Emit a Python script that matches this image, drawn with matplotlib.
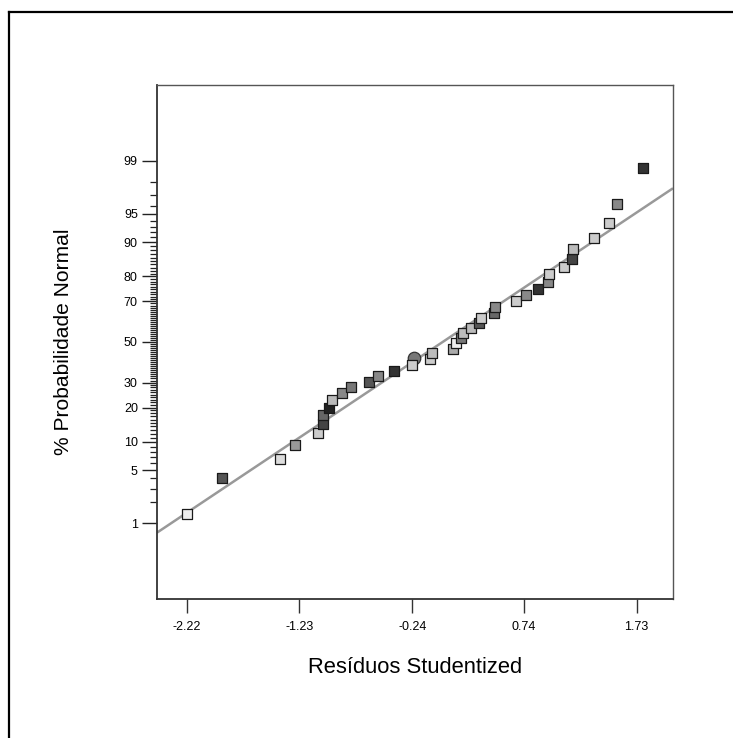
import numpy as np
import matplotlib
matplotlib.use("Agg")
import matplotlib.pyplot as plt
from matplotlib.lines import Line2D
from statistics import NormalDist

# ---- data ----
residuals = [-2.22, -1.907, -1.404, -1.272, -1.065, -1.021, -1.021, -0.971, -0.942, -0.857,
             -0.778, -0.617, -0.541, -0.400, -0.245, -0.223, -0.084, -0.064, 0.120, 0.141,
             0.188, 0.208, 0.276, 0.346, 0.361, 0.480, 0.484, 0.668, 0.756, 0.861,
             0.952, 0.960, 1.092, 1.162, 1.174, 1.355, 1.490, 1.560, 1.783]
prob_pct = [1.36, 4.02, 6.72, 9.32, 12.08, 14.64, 17.36, 19.97, 22.72, 25.53,
            28.06, 30.53, 33.28, 35.64, 38.64, 41.62, 41.2, 44.24, 46.27, 49.33,
            51.89, 54.75, 56.97, 59.78, 62.23, 64.64, 67.47, 70.19, 72.67, 75.18,
            77.93, 80.74, 83.2, 85.74, 88.36, 90.96, 93.61, 96.14, 98.71]
fill_gray = ["#eeeeee", "#555555", "#dddddd", "#999999", "#cccccc", "#444444", "#666666",
             "#222222", "#bbbbbb", "#888888", "#777777", "#555555", "#888888", "#333333",
             "#cccccc", "#777777", "#cccccc", "#bbbbbb", "#aaaaaa", "#eeeeee", "#777777",
             "#bbbbbb", "#bbbbbb", "#555555", "#cccccc", "#666666", "#888888", "#cccccc",
             "#888888", "#333333", "#888888", "#cccccc", "#cccccc", "#444444", "#bbbbbb",
             "#cccccc", "#cccccc", "#888888", "#333333"]
marker_shape = ["s"] * 15 + ["o"] + ["s"] * 23

fit_slope = 0.9753       # normal-score units per residual unit
fit_intercept = -0.026

x_ticks = [-2.22, -1.23, -0.24, 0.74, 1.73]
x_tick_labels = ["-2.22", "-1.23", "-0.24", "0.74", "1.73"]
y_major = [1, 5, 10, 20, 30, 50, 70, 80, 90, 95, 99]
y_minor = [v for v in range(2, 99) if v not in y_major]

x_limits = (-2.481, 2.049)
z_limit = 3.297

xlabel = "Resíduos Studentized"
ylabel = "% Probabilidade Normal"

# ---- normal probability scale ----
_nd = NormalDist()
def _fwd(p):
    p = np.clip(np.asarray(p, dtype=float), 1e-7, 100 - 1e-7)
    return np.vectorize(lambda v: _nd.inv_cdf(v / 100.0))(p)
def _inv(z):
    z = np.asarray(z, dtype=float)
    return np.vectorize(lambda v: _nd.cdf(v) * 100.0)(z)

plt.rcParams['font.family'] = ['Liberation Sans', 'DejaVu Sans']

fig = plt.figure(figsize=(7.33, 7.38), dpi=100)
ax = fig.add_axes([157 / 733, 1 - 599 / 738, 516 / 733, 514 / 738])
ax.set_yscale('function', functions=(_fwd, _inv))

# fitted line
xl = np.array(x_limits)
line_p = _inv(fit_intercept + fit_slope * xl)
ax.plot(xl, line_p, color="#999999", lw=1.8, zorder=2, solid_capstyle='butt')

# points
for i, (x, p, c, m) in enumerate(zip(residuals, prob_pct, fill_gray, marker_shape)):
    if m == "o":
        ax.scatter([x], [p], s=9.0 ** 2, marker="o", facecolor=c, edgecolor="#333333",
                   linewidth=0.9, zorder=3)
    else:
        ax.scatter([x], [p], s=7.8 ** 2, marker="s", facecolor=c, edgecolor="#1a1a1a",
                   linewidth=0.9, zorder=4 + i * 0.01)

ax.set_xlim(*x_limits)
ax.set_ylim(_inv(-z_limit), _inv(z_limit))

ax.set_xticks(x_ticks)
ax.set_xticklabels(x_tick_labels)
ax.set_yticks(y_major)
ax.set_yticklabels([str(v) for v in y_major])
ax.set_yticks(y_minor, minor=True)
ax.xaxis.set_minor_locator(matplotlib.ticker.NullLocator())

ax.tick_params(axis='y', which='major', length=10.8, width=1.0, color="#222222",
               labelsize=9, pad=3)
ax.tick_params(axis='y', which='minor', length=5.0, width=0.9, color="#222222")
ax.tick_params(axis='x', which='major', length=10.0, width=1.0, color="#333333",
               labelsize=9, pad=6)

for side in ['left', 'bottom']:
    ax.spines[side].set_linewidth(1.3)
    ax.spines[side].set_color("#333333")
for side in ['top', 'right']:
    ax.spines[side].set_linewidth(1.0)
    ax.spines[side].set_color("#555555")

ax.set_xlabel(xlabel, fontsize=15.8)
ax.xaxis.label.set_va('center')
ax.xaxis.set_label_coords(0.5, -0.134)
ax.set_ylabel(ylabel, fontsize=15.1)
ax.yaxis.label.set_va('center')
ax.yaxis.set_label_coords(-0.182, 0.5)

# outer frame (partially visible)
fx = 8.5 / 733
fy = 1 - 12 / 738
fig.add_artist(Line2D([fx, fx], [0, fy], transform=fig.transFigure, color="black", lw=1.6))
fig.add_artist(Line2D([fx, 1.0], [fy, fy], transform=fig.transFigure, color="black", lw=1.6))

fig.savefig("out.png", dpi=100)
